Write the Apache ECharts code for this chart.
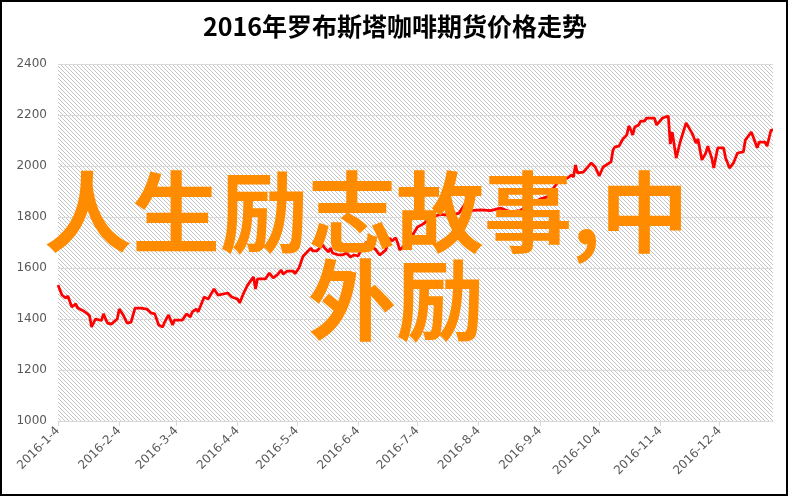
<!DOCTYPE html>
<html>
<head>
<meta charset="utf-8">
<script src="https://cdn.jsdelivr.net/npm/echarts@6/dist/echarts.min.js"></script>
<style>
html,body{margin:0;padding:0;background:#fff;}
#chart{width:790px;height:498px;}
</style>
</head>
<body>
<div id="chart"></div>
<script>
const titleText = '2016年罗布斯塔咖啡期货价格走势';
const overlayLine1 = '人生励志故事,中';
const overlayLine2 = '外励';
const tickLabels = ['2016-1-4','2016-2-4','2016-3-4','2016-4-4','2016-5-4','2016-6-4','2016-7-4','2016-8-4','2016-9-4','2016-10-4','2016-11-4','2016-12-4'];
const dates = [
'2016-01-04','2016-01-06','2016-01-08','2016-01-09','2016-01-11','2016-01-13','2016-01-14','2016-01-15','2016-01-17','2016-01-19',
'2016-01-20','2016-01-21','2016-01-22','2016-01-23','2016-01-24','2016-01-26','2016-01-27','2016-01-29','2016-01-31','2016-02-01',
'2016-02-03','2016-02-04','2016-02-06','2016-02-08','2016-02-10','2016-02-11','2016-02-12','2016-02-15','2016-02-16','2016-02-18',
'2016-02-20','2016-02-22','2016-02-24','2016-02-26','2016-02-27','2016-02-29','2016-03-02','2016-03-03','2016-03-07','2016-03-09',
'2016-03-11','2016-03-12','2016-03-14','2016-03-15','2016-03-16','2016-03-18','2016-03-20','2016-03-21','2016-03-23','2016-03-24',
'2016-03-25','2016-03-30','2016-03-31','2016-04-01','2016-04-04','2016-04-05','2016-04-07','2016-04-09','2016-04-12','2016-04-13',
'2016-04-14','2016-04-18','2016-04-20','2016-04-22','2016-04-24','2016-04-26','2016-04-27','2016-04-29','2016-05-02','2016-05-03',
'2016-05-05','2016-05-07','2016-05-08','2016-05-11','2016-05-12','2016-05-14','2016-05-17','2016-05-18','2016-05-20','2016-05-21',
'2016-05-22','2016-05-25','2016-05-27','2016-05-29','2016-05-31','2016-06-02','2016-06-04','2016-06-05','2016-06-07','2016-06-08',
'2016-06-09','2016-06-10','2016-06-13','2016-06-14','2016-06-15','2016-06-16','2016-06-18','2016-06-20','2016-06-21','2016-06-23',
'2016-06-24','2016-06-25','2016-06-26','2016-06-29','2016-07-02','2016-07-04','2016-07-07','2016-07-11','2016-07-16','2016-07-21',
'2016-07-25','2016-07-28','2016-07-31','2016-08-05','2016-08-10','2016-08-15','2016-08-20','2016-08-25','2016-08-31','2016-09-04',
'2016-09-08','2016-09-10','2016-09-14','2016-09-18','2016-09-20','2016-09-21','2016-09-22','2016-09-23','2016-09-26','2016-09-30',
'2016-10-02','2016-10-04','2016-10-06','2016-10-10','2016-10-11','2016-10-12','2016-10-14','2016-10-16','2016-10-18','2016-10-19',
'2016-10-20','2016-10-21','2016-10-22','2016-10-24','2016-10-25','2016-10-27','2016-10-28','2016-11-01','2016-11-02','2016-11-03',
'2016-11-04','2016-11-05','2016-11-08','2016-11-09','2016-11-10','2016-11-12','2016-11-14','2016-11-17','2016-11-18','2016-11-20',
'2016-11-22','2016-11-23','2016-11-25','2016-11-27','2016-11-28','2016-11-30','2016-12-01','2016-12-03','2016-12-06','2016-12-07',
'2016-12-09','2016-12-11','2016-12-13','2016-12-16','2016-12-17','2016-12-20','2016-12-21','2016-12-23','2016-12-24','2016-12-27',
'2016-12-28','2016-12-30','2016-12-31'
];
const prices = [
1533,1494,1482,1490,1447,1459,1443,1447,1431,1420,
1412,1369,1373,1400,1396,1394,1420,1384,1380,1376,
1400,1439,1416,1384,1388,1384,1443,1443,1447,1439,
1424,1420,1376,1369,1388,1416,1376,1396,1396,1420,
1408,1428,1439,1428,1428,1486,1478,1474,1518,1518,
1494,1502,1506,1486,1478,1463,1502,1533,1565,1518,
1557,1557,1580,1561,1573,1592,1576,1588,1588,1578,
1600,1645,1643,1678,1667,1667,1690,1678,1663,1678,
1659,1651,1651,1659,1643,1651,1647,1663,1682,1702,
1682,1690,1671,1659,1651,1647,1671,1718,1706,1718,
1698,1671,1671,1700,1735,1761,1773,1800,1810,1805,
1815,1850,1825,1828,1825,1835,1820,1825,1855,1870,
1880,1905,1945,1953,1965,1957,2004,1973,1976,2012,
1996,1961,1996,2016,2063,2075,2078,2106,2122,2157,
2141,2122,2153,2161,2176,2176,2188,2188,2161,2169,
2173,2188,2196,2086,2133,2031,2094,2169,2165,2129,
2090,2106,2024,2051,2078,2031,1992,2071,2071,2031,
1992,2012,2051,2055,2102,2133,2114,2071,2094,2094,
2078,2141,2141
];

function parseDate(s){const p=s.split('-').map(Number);return new Date(p[0],p[1]-1,p[2]).getTime();}
const tickValues = tickLabels.map(parseDate);
const times = dates.map(parseDate);
function fmt(v){const d=new Date(v);return d.getFullYear()+'-'+(d.getMonth()+1)+'-'+d.getDate();}

// hatch pattern for plot background
const pc = document.createElement('canvas');
pc.width = 4; pc.height = 4;
const pctx = pc.getContext('2d');
pctx.fillStyle = '#ffffff'; pctx.fillRect(0,0,4,4);
pctx.fillStyle = '#c4c4c4';
for (let i=0;i<4;i++){ pctx.fillRect(i,i,1,1); }

const GRID = {left:58, right:17, top:64, bottom:77};
const W = 790, H = 498;

const chart = echarts.init(document.getElementById('chart'), null, {renderer:'canvas', width:W, height:H});
const labelColor = '#595959';
chart.setOption({
  animation:false,
  backgroundColor:'#ffffff',
  title:{
    text:titleText, left:'center', top:9,
    textStyle:{fontFamily:'Noto Sans CJK SC', fontSize:25, fontWeight:'bold', color:'#000000'}
  },
  grid:{left:GRID.left, right:GRID.right, top:GRID.top, bottom:GRID.bottom, show:false},
  xAxis:{
    type:'value', min:times[0], max:times[times.length-1], scale:true,
    axisLine:{show:true, lineStyle:{color:'#d9d9d9', width:1}},
    axisTick:{show:true, customValues:tickValues, length:5, lineStyle:{color:'#d9d9d9'}},
    axisLabel:{customValues:tickValues, formatter:fmt, rotate:45, color:labelColor,
               fontFamily:'DejaVu Sans', fontSize:12, margin:8},
    splitLine:{show:false}
  },
  yAxis:{
    type:'value', min:1000, max:2400, interval:200,
    axisLine:{show:false}, axisTick:{show:false},
    axisLabel:{color:labelColor, fontFamily:'DejaVu Sans', fontSize:12, margin:11,
               formatter:function(v){return String(v);}},
    splitLine:{show:true, lineStyle:{color:'#d9d9d9', width:1}}
  },
  series:[{
    type:'line', data:times.map((t,i)=>[t,prices[i]]),
    showSymbol:false, symbol:'none',
    lineStyle:{color:'#ff0000', width:2.75}, z:3
  }],
  graphic:[
    {type:'rect', z:-10, silent:true,
     shape:{x:GRID.left, y:GRID.top, width:W-GRID.left-GRID.right, height:H-GRID.top-GRID.bottom},
     style:{fill:{image:pc, repeat:'repeat'}, stroke:null}},
    {type:'rect', shape:{x:1,y:1,width:786,height:494}, style:{fill:null, stroke:'#000000', lineWidth:2}, z:100, silent:true},
    {type:'text', x:44, y:168, z:200, style:{text:overlayLine1, fill:'#ff8c00', font:'bold 88px "Noto Sans CJK SC"', textVerticalAlign:'top'}},
    {type:'text', x:308, y:256, z:200, style:{text:overlayLine2, fill:'#ff8c00', font:'bold 88px "Noto Sans CJK SC"', textVerticalAlign:'top'}}
  ]
});
</script>
</body>
</html>
